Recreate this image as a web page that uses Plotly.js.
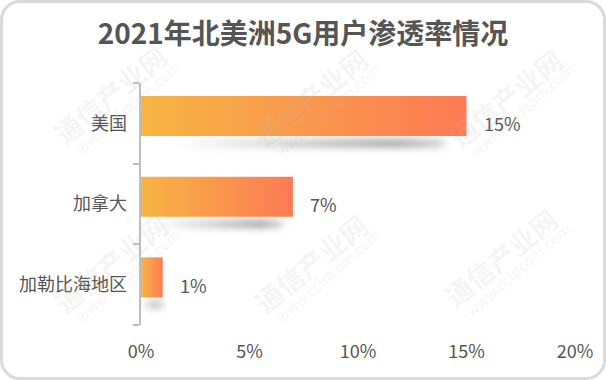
<!DOCTYPE html>
<html><head><meta charset="utf-8">
<script src="https://cdn.plot.ly/plotly-3.0.1.min.js"></script>
<style>
html,body{margin:0;padding:0;background:#fff;}
#wrap{position:relative;width:606px;height:380px;overflow:hidden;}
#chart{width:606px;height:380px;}
#frame{position:absolute;left:0;top:0;width:606px;height:380px;box-sizing:border-box;border:3px solid #dadada;border-radius:20px;pointer-events:none;}
</style></head><body>
<div id="wrap"><div id="chart"></div><div id="frame"></div></div>
<script>
const titleText = '2021年北美洲5G用户渗透率情况';
const categories = ['美国', '加拿大', '加勒比海地区'];
const values = [15, 7, 1];
const xTickVals = [0, 5, 10, 15, 20];
const xTickText = ['0%', '5%', '10%', '15%', '20%'];
const watermarkMain = '通信产业网';
const watermarkSub = 'www.ccidcom.com';

const FONT = '"Noto Sans CJK SC", "Noto Sans", sans-serif';
const TXT = '#555555';
const barOffset = -0.09, barHalf = 0.248;

const traces = [];
// shadows
values.forEach((v, i) => {
  const c = i + barOffset;
  const y0 = c + barHalf + 0.03, y1 = c + barHalf + 0.15;
  const x0 = v * 0.1, x1 = v * 0.93;
  traces.push({
    type: 'scatter', mode: 'none', fill: 'toself', hoverinfo: 'skip', showlegend: false,
    x: [x0, x1, x1, x0, x0], y: [y0, y0, y1, y1, y0],
    fillgradient: {type: 'horizontal', colorscale: [[0, 'rgba(100,100,100,0)'], [0.82, 'rgba(100,100,100,0.5)'], [1, 'rgba(100,100,100,0.25)']]}
  });
});
// bars
values.forEach((v, i) => {
  const c = i + barOffset;
  traces.push({
    type: 'scatter', mode: 'none', fill: 'toself', hoverinfo: 'skip', showlegend: false,
    x: [0, v, v, 0, 0], y: [c - barHalf, c - barHalf, c + barHalf, c + barHalf, c - barHalf],
    fillgradient: {type: 'horizontal', colorscale: [[0, '#f7b543'], [1, '#fd7a55']]}
  });
});
// dummy for boundary-tick axis
traces.push({type: 'scatter', mode: 'none', x: [0], y: [0], yaxis: 'y2', hoverinfo: 'skip', showlegend: false});

const annotations = values.map((v, i) => ({
  x: v, y: i, xref: 'x', yref: 'y', text: v + '%', showarrow: false,
  xanchor: 'left', yanchor: 'middle', xshift: 15, font: {size: 18, color: TXT, family: FONT}
}));

// watermark positions (pixels)
const L = 141, R = 575, T = 83, B = 325;
const wm = [[110, 95], [310, 97], [505, 98], [110, 263], [310, 263], [500, 257]];
wm.forEach(([px, py]) => {
  annotations.push({
    xref: 'paper', yref: 'paper', x: (px - L) / (R - L), y: (B - py) / (B - T),
    text: watermarkMain, showarrow: false, textangle: -39, xanchor: 'center', yanchor: 'middle',
    font: {size: 27, color: 'rgba(190,190,190,0.17)', family: FONT, weight: 'bold'}
  });
  annotations.push({
    xref: 'paper', yref: 'paper', x: (px + 17 - L) / (R - L), y: (B - py - 12) / (B - T),
    text: watermarkSub, showarrow: false, textangle: -41, xanchor: 'center', yanchor: 'middle',
    font: {size: 15, color: 'rgba(190,190,190,0.17)', family: FONT}
  });
});

const layout = {
  width: 606, height: 380,
  margin: {l: L, r: 606 - R, t: T, b: 380 - B, pad: 0},
  paper_bgcolor: '#ffffff', plot_bgcolor: '#ffffff',
  font: {family: FONT, color: TXT},
  title: {text: titleText, x: 0.5, xref: 'container', xanchor: 'center', y: 1 - 34 / 380, yref: 'container', yanchor: 'middle',
    font: {size: 28, color: TXT, family: FONT, weight: 'bold'}},
  xaxis: {range: [0, 20], tickvals: xTickVals, ticktext: xTickText, showline: false, showgrid: false, zeroline: false,
    ticks: '', ticklabelstandoff: 14, tickfont: {size: 18, color: TXT, family: FONT}, fixedrange: true},
  yaxis: {range: [2.5, -0.5], tickvals: [0, 1, 2], ticktext: categories, showline: false, showgrid: false, zeroline: false,
    ticks: '', ticklabelstandoff: 13, tickfont: {size: 18, color: TXT, family: FONT}, fixedrange: true},
  yaxis2: {overlaying: 'y', side: 'left', range: [2.5, -0.5], tickvals: [-0.5, 0.5, 1.5, 2.5], showticklabels: false,
    ticks: 'outside', ticklen: 6, tickwidth: 2, tickcolor: '#bdbdbd', showline: true, linecolor: '#bdbdbd', linewidth: 2,
    showgrid: false, zeroline: false, fixedrange: true},
  annotations: annotations,
  showlegend: false
};

Plotly.newPlot('chart', traces, layout, {staticPlot: true, displayModeBar: false}).then(gd => {
  const svg = gd.querySelector('svg.main-svg');
  const ns = 'http://www.w3.org/2000/svg';
  let defs = svg.querySelector('defs');
  if (!defs) { defs = document.createElementNS(ns, 'defs'); svg.insertBefore(defs, svg.firstChild); }
  const f = document.createElementNS(ns, 'filter');
  f.setAttribute('id', 'shblur');
  f.setAttribute('x', '-30%'); f.setAttribute('y', '-150%');
  f.setAttribute('width', '160%'); f.setAttribute('height', '400%');
  const g = document.createElementNS(ns, 'feGaussianBlur');
  g.setAttribute('stdDeviation', '5 3');
  f.appendChild(g); defs.appendChild(f);
  const tr = gd.querySelectorAll('.scatterlayer .trace');
  for (let k = 0; k < values.length; k++) {
    const p = tr[k].querySelector('path.js-fill') || tr[k];
    p.setAttribute('filter', 'url(#shblur)');
  }
});
</script>
</body></html>
